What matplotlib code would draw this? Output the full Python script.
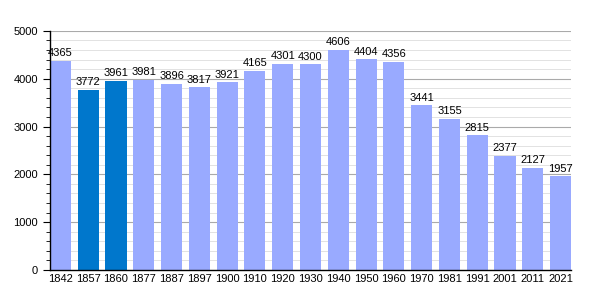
import numpy as np
import matplotlib.pyplot as plt
from matplotlib.ticker import MultipleLocator

years = ["1842", "1857", "1860", "1877", "1887", "1897", "1900", "1910", "1920", "1930",
         "1940", "1950", "1960", "1970", "1981", "1991", "2001", "2011", "2021"]
population = [4365, 3772, 3961, 3981, 3896, 3817, 3921, 4165, 4301, 4300,
              4606, 4404, 4356, 3441, 3155, 2815, 2377, 2127, 1957]
highlight = ["1857", "1860"]

plt.rcParams['font.family'] = ['Liberation Sans', 'DejaVu Sans']

fig = plt.figure(figsize=(6, 3), dpi=100)
ax = fig.add_axes([0.083, 0.1, 0.869, 0.797])

x = np.arange(len(years))
colors = ["#0077cc" if y in highlight else "#99aaff" for y in years]
ax.bar(x, population, width=0.76, color=colors, zorder=2)

for xi, v in zip(x, population):
    ax.text(xi, v + 60, str(v), ha="center", va="bottom", fontsize=8, zorder=3)

ax.set_xlim(-0.38, len(years) - 1 + 0.38)
ax.set_ylim(0, 5000)
ax.set_xticks(x)
ax.set_xticklabels(years)
ax.yaxis.set_major_locator(MultipleLocator(1000))
ax.yaxis.set_minor_locator(MultipleLocator(200))
ax.grid(axis="y", which="major", color="#aaaaaa", linewidth=0.8, zorder=0)
ax.grid(axis="y", which="minor", color="#e2e2e2", linewidth=0.7, zorder=0)

ax.spines["top"].set_visible(False)
ax.spines["right"].set_visible(False)
ax.spines["left"].set_linewidth(1)
ax.spines["bottom"].set_linewidth(1)
ax.tick_params(axis="x", length=0, labelsize=8, pad=3)
ax.tick_params(axis="y", which="major", length=5, labelsize=8)
ax.tick_params(axis="y", which="minor", length=3)

fig.savefig("out.png", dpi=100)
